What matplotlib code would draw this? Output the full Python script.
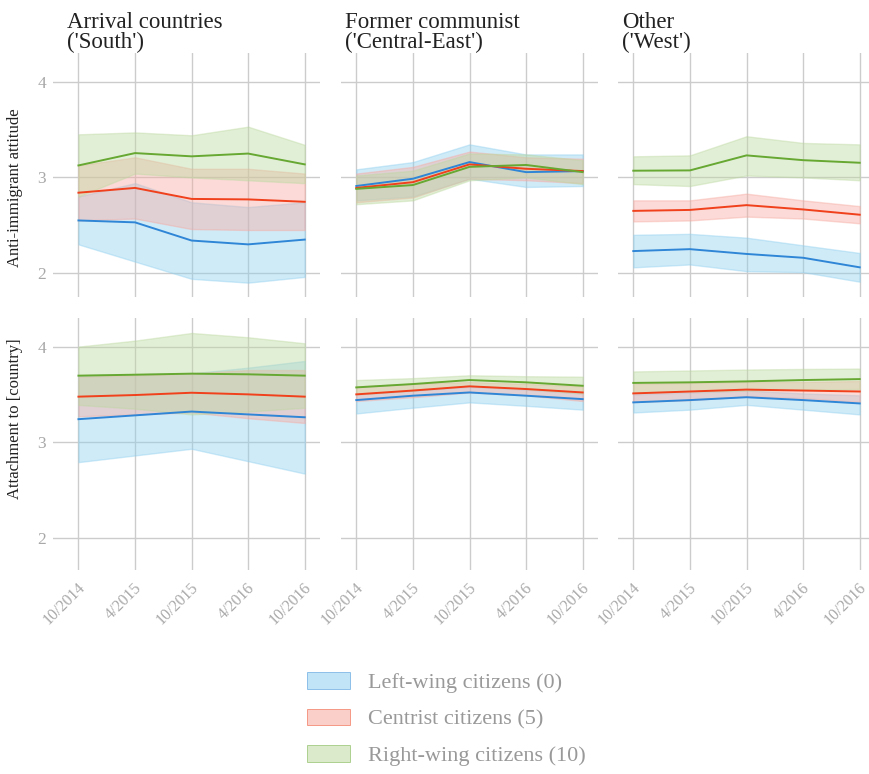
import matplotlib
matplotlib.use("Agg")
import matplotlib.pyplot as plt
from matplotlib.patches import Patch
from matplotlib.transforms import ScaledTranslation

plt.rcParams['font.family'] = ['Liberation Serif', 'DejaVu Serif']

waves = ["10/2014", "4/2015", "10/2015", "4/2016", "10/2016"]
regions = ["Arrival countries\n('South')", "Former communist\n('Central-East')", "Other\n('West')"]
outcomes = ["Anti-immigrant attitude", "Attachment to [country]"]
groups = ["Left-wing citizens (0)", "Centrist citizens (5)", "Right-wing citizens (10)"]

# anti-immigrant attitude: mean, lower, upper per region and group
anti_south_left = [2.55, 2.53, 2.34, 2.30, 2.35]
anti_south_left_lo = [2.30, 2.12, 1.94, 1.90, 1.96]
anti_south_left_hi = [2.80, 2.94, 2.74, 2.69, 2.74]
anti_south_mid = [2.84, 2.89, 2.775, 2.77, 2.745]
anti_south_mid_lo = [2.55, 2.57, 2.46, 2.45, 2.45]
anti_south_mid_hi = [3.125, 3.21, 3.09, 3.09, 3.04]
anti_south_right = [3.125, 3.254, 3.22, 3.249, 3.136]
anti_south_right_lo = [2.80, 3.04, 3.00, 2.97, 2.94]
anti_south_right_hi = [3.45, 3.47, 3.44, 3.53, 3.34]

anti_east_left = [2.91, 2.986, 3.16, 3.055, 3.066]
anti_east_left_lo = [2.76, 2.80, 2.986, 2.90, 2.91]
anti_east_left_hi = [3.084, 3.16, 3.345, 3.24, 3.24]
anti_east_mid = [2.89, 2.95, 3.136, 3.09, 3.066]
anti_east_mid_lo = [2.74, 2.79, 2.986, 2.97, 2.94]
anti_east_mid_hi = [3.04, 3.11, 3.27, 3.21, 3.195]
anti_east_right = [2.88, 2.92, 3.11, 3.13, 3.055]
anti_east_right_lo = [2.72, 2.76, 2.97, 3.00, 2.93]
anti_east_right_hi = [3.02, 3.07, 3.25, 3.24, 3.18]

anti_west_left = [2.23, 2.25, 2.20, 2.16, 2.06]
anti_west_left_lo = [2.06, 2.09, 2.02, 2.01, 1.91]
anti_west_left_hi = [2.40, 2.41, 2.37, 2.29, 2.21]
anti_west_mid = [2.65, 2.66, 2.71, 2.665, 2.61]
anti_west_mid_lo = [2.54, 2.55, 2.59, 2.57, 2.52]
anti_west_mid_hi = [2.76, 2.76, 2.83, 2.76, 2.70]
anti_west_right = [3.07, 3.073, 3.23, 3.18, 3.153]
anti_west_right_lo = [2.93, 2.91, 3.02, 3.00, 2.97]
anti_west_right_hi = [3.22, 3.23, 3.43, 3.36, 3.345]

# attachment to country
att_south_left = [3.24, 3.28, 3.32, 3.29, 3.26]
att_south_left_lo = [2.79, 2.86, 2.93, 2.80, 2.67]
att_south_left_hi = [3.70, 3.71, 3.72, 3.78, 3.85]
att_south_mid = [3.476, 3.493, 3.517, 3.50, 3.476]
att_south_mid_lo = [3.27, 3.29, 3.31, 3.25, 3.20]
att_south_mid_hi = [3.685, 3.70, 3.72, 3.755, 3.755]
att_south_right = [3.696, 3.706, 3.717, 3.71, 3.696]
att_south_right_lo = [3.39, 3.35, 3.29, 3.32, 3.36]
att_south_right_hi = [4.00, 4.063, 4.143, 4.098, 4.035]

att_east_left = [3.44, 3.486, 3.52, 3.486, 3.45]
att_east_left_lo = [3.30, 3.36, 3.416, 3.38, 3.34]
att_east_left_hi = [3.50, 3.54, 3.58, 3.55, 3.51]
att_east_mid = [3.50, 3.54, 3.584, 3.556, 3.52]
att_east_mid_lo = [3.43, 3.47, 3.52, 3.49, 3.43]
att_east_mid_hi = [3.584, 3.61, 3.63, 3.61, 3.584]
att_east_right = [3.573, 3.608, 3.65, 3.626, 3.59]
att_east_right_lo = [3.50, 3.54, 3.59, 3.556, 3.51]
att_east_right_hi = [3.65, 3.67, 3.70, 3.69, 3.685]

att_west_left = [3.416, 3.44, 3.47, 3.44, 3.405]
att_west_left_lo = [3.31, 3.34, 3.39, 3.34, 3.29]
att_west_left_hi = [3.50, 3.52, 3.54, 3.51, 3.49]
att_west_mid = [3.51, 3.53, 3.55, 3.54, 3.53]
att_west_mid_lo = [3.42, 3.44, 3.48, 3.46, 3.42]
att_west_mid_hi = [3.61, 3.62, 3.63, 3.63, 3.64]
att_west_right = [3.62, 3.626, 3.636, 3.65, 3.66]
att_west_right_lo = [3.52, 3.53, 3.54, 3.55, 3.556]
att_west_right_hi = [3.74, 3.75, 3.76, 3.766, 3.77]

panels = [
    [
        [(anti_south_left, anti_south_left_lo, anti_south_left_hi),
         (anti_south_mid, anti_south_mid_lo, anti_south_mid_hi),
         (anti_south_right, anti_south_right_lo, anti_south_right_hi)],
        [(anti_east_left, anti_east_left_lo, anti_east_left_hi),
         (anti_east_mid, anti_east_mid_lo, anti_east_mid_hi),
         (anti_east_right, anti_east_right_lo, anti_east_right_hi)],
        [(anti_west_left, anti_west_left_lo, anti_west_left_hi),
         (anti_west_mid, anti_west_mid_lo, anti_west_mid_hi),
         (anti_west_right, anti_west_right_lo, anti_west_right_hi)],
    ],
    [
        [(att_south_left, att_south_left_lo, att_south_left_hi),
         (att_south_mid, att_south_mid_lo, att_south_mid_hi),
         (att_south_right, att_south_right_lo, att_south_right_hi)],
        [(att_east_left, att_east_left_lo, att_east_left_hi),
         (att_east_mid, att_east_mid_lo, att_east_mid_hi),
         (att_east_right, att_east_right_lo, att_east_right_hi)],
        [(att_west_left, att_west_left_lo, att_west_left_hi),
         (att_west_mid, att_west_mid_lo, att_west_mid_hi),
         (att_west_right, att_west_right_lo, att_west_right_hi)],
    ],
]

line_colors = ["#2f86d6", "#f0401c", "#66a832"]
fill_colors = ["#8fd0ef", "#f7a9a0", "#bcd9a0"]
grid_col = "#cccccc"
tick_col = "#a8a8a8"

W, H = 869, 774
fig = plt.figure(figsize=(W / 100, H / 100), dpi=100)

# pixel layout of the panels
col_left = [53, 341, 618]
col_right = [320, 598, 875]
xlims = [(-0.45, 4.27), (-0.27, 4.27), (-0.27, 4.27)]
row_top = [53, 318]
row_bot = [297, 570]
ylims = [(1.75, 4.30), (1.66, 4.30)]
ylab_pos = [0.447, 0.60]

x = list(range(len(waves)))
for r in range(2):
    for c in range(3):
        ax = fig.add_axes([col_left[c] / W, 1 - row_bot[r] / H,
                           (col_right[c] - col_left[c]) / W,
                           (row_bot[r] - row_top[r]) / H])
        for g in range(3):
            mean, lo, hi = panels[r][c][g]
            ax.fill_between(x, lo, hi, color=fill_colors[g], alpha=0.42,
                            edgecolor=fill_colors[g], linewidth=1.0, zorder=2)
        for g in range(3):
            mean, lo, hi = panels[r][c][g]
            ax.plot(x, mean, color=line_colors[g], lw=1.4, zorder=3)
        ax.set_xlim(*xlims[c])
        ax.set_ylim(*ylims[r])
        ax.set_yticks([2, 3, 4])
        ax.set_xticks(x)
        ax.grid(True, color=grid_col, lw=1.0, zorder=0)
        ax.set_axisbelow(True)
        for s in ax.spines.values():
            s.set_visible(False)
        ax.tick_params(length=0, colors=tick_col, labelsize=12.5, pad=5)
        if c == 0:
            ax.set_yticklabels(["2", "3", "4"])
            ax.set_ylabel(outcomes[r], fontsize=12, color="#222222")
            ax.yaxis.set_label_coords(-30 / (col_right[c] - col_left[c]), ylab_pos[r])
        else:
            ax.set_yticklabels([])
        if r == 1:
            ax.set_xticklabels(waves, rotation=45, ha="right", rotation_mode="anchor",
                               fontsize=11.5)
            for lab in ax.get_xticklabels():
                lab.set_transform(lab.get_transform() +
                                  ScaledTranslation(-1 / 72, -2 / 72, fig.dpi_scale_trans))
        else:
            ax.set_xticklabels([])
        if r == 0:
            fig.text((col_left[c] + (14 if c == 0 else 4)) / W, 1 - 12 / H, regions[c],
                     fontsize=16.5, color="#222222", va="top", ha="left", linespacing=0.95)

handles = [Patch(facecolor=fill_colors[g], alpha=0.55, edgecolor=line_colors[g],
                 linewidth=0.6) for g in range(3)]
leg = fig.legend(handles, groups, loc="upper left", bbox_to_anchor=(287 / W, 1 - 652 / H),
                 frameon=False, fontsize=16, labelcolor="#999999", handlelength=1.95,
                 handleheight=0.77, labelspacing=0.7, handletextpad=0.8)

fig.savefig("out.png", dpi=100)
